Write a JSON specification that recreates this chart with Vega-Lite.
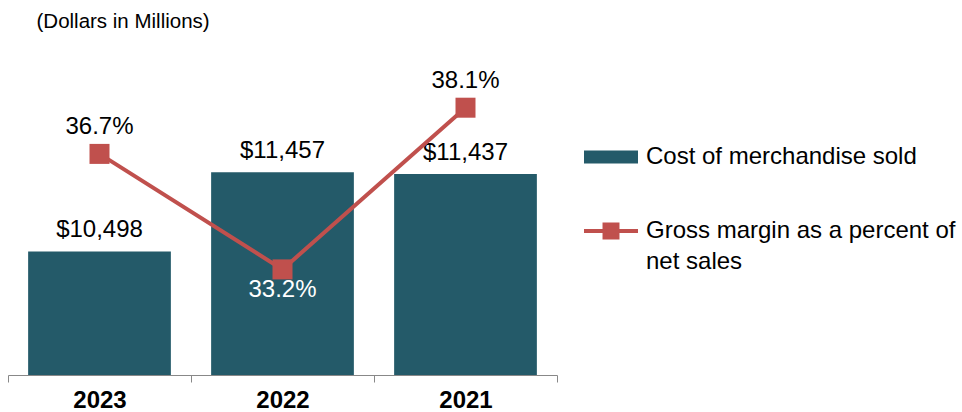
{
  "$schema": "https://vega.github.io/schema/vega-lite/v6.json",
  "width": 549,
  "height": 330,
  "autosize": {"type": "none"},
  "padding": {"left": 8, "top": 45, "right": 405, "bottom": 37},
  "background": "white",
  "title": {
    "text": "(Dollars in Millions)",
    "anchor": "start",
    "dx": 29,
    "offset": 13,
    "fontSize": 20.5,
    "fontWeight": "normal",
    "font": "Liberation Sans",
    "color": "#000000"
  },
  "config": {
    "view": {"stroke": null},
    "font": "Liberation Sans",
    "axisX": {
      "labelFont": "Liberation Sans",
      "labelFontSize": 24,
      "labelFontWeight": "bold",
      "labelColor": "#000000",
      "domainColor": "#888888",
      "tickColor": "#888888",
      "tickSize": 7,
      "tickBand": "extent",
      "labelPadding": 6,
      "labelAngle": 0,
      "title": null,
      "grid": false
    }
  },
  "data": {
    "values": [
      {"year": "2023", "cost": 10498, "margin": 0.367},
      {"year": "2022", "cost": 11457, "margin": 0.332},
      {"year": "2021", "cost": 11437, "margin": 0.381}
    ]
  },
  "encoding": {
    "x": {
      "field": "year",
      "type": "nominal",
      "sort": ["2023", "2022", "2021"],
      "scale": {"paddingInner": 0, "paddingOuter": 0},
      "axis": {"title": null}
    }
  },
  "layer": [
    {
      "mark": {"type": "bar", "clip": true, "width": {"band": 0.78}},
      "encoding": {
        "y": {"field": "cost", "type": "quantitative", "scale": {"domain": [9000, 13000], "zero": false}, "axis": null},
        "color": {
          "datum": "Cost of merchandise sold",
          "type": "nominal",
          "scale": {
            "domain": ["Cost of merchandise sold", "Gross margin as a percent of net sales"],
            "range": ["#245A69", "#C0504D"]
          },
          "legend": {
            "title": null,
            "orient": "none",
            "legendX": 591,
            "legendY": 100,
            "padding": 0,
            "symbolSize": 2916,
            "rowPadding": 47,
            "labelOffset": 23,
            "labelLimit": 400,
            "labelFont": "Liberation Sans",
            "labelFontSize": 24,
            "labelColor": "#000000",
            "labelBaseline": "middle",
            "labelExpr": "datum.label == 'Gross margin as a percent of net sales' ? ['Gross margin as a percent of', 'net sales'] : datum.label",
            "encode": {
              "symbols": {
                "update": {
                  "shape": {"signal": "datum.label == 'Cost of merchandise sold' ? 'M-1,-0.24H1V0.24H-1Z' : 'M-1,0H-0.24V-0.24H0.24V0.24H-0.24V0H-0.24M0.24,0H1'"},
                  "fill": {"signal": "datum.label == 'Cost of merchandise sold' ? '#245A69' : '#C0504D'"},
                  "stroke": {"signal": "datum.label == 'Cost of merchandise sold' ? '#245A69' : '#C0504D'"},
                  "strokeWidth": {"signal": "datum.label == 'Cost of merchandise sold' ? 0 : 4"},
                  "opacity": {"value": 1},
                  "fillOpacity": {"value": 1},
                  "strokeOpacity": {"value": 1}
                }
              },
              "labels": {
                "update": {
                  "lineHeight": {"value": 31}
                }
              }
            }
          }
        }
      }
    },
    {
      "mark": {"type": "text", "dy": -21, "fontSize": 24, "font": "Liberation Sans", "color": "#000000"},
      "encoding": {
        "y": {"field": "cost", "type": "quantitative", "scale": {"domain": [9000, 13000], "zero": false}, "axis": null},
        "text": {"field": "cost", "type": "quantitative", "format": "$,d"}
      }
    },
    {
      "mark": {"type": "line", "strokeWidth": 4, "point": {"shape": "square", "size": 400, "filled": true, "opacity": 1}},
      "encoding": {
        "y": {"field": "margin", "type": "quantitative", "scale": {"domain": [0.30, 0.40], "zero": false}, "axis": null},
        "color": {"datum": "Gross margin as a percent of net sales", "type": "nominal"}
      }
    },
    {
      "transform": [{"filter": "datum.year != '2022'"}],
      "mark": {"type": "text", "dy": -27, "fontSize": 24, "font": "Liberation Sans", "color": "#000000"},
      "encoding": {
        "y": {"field": "margin", "type": "quantitative", "scale": {"domain": [0.30, 0.40], "zero": false}, "axis": null},
        "text": {"field": "margin", "type": "quantitative", "format": ".1%"}
      }
    },
    {
      "transform": [{"filter": "datum.year == '2022'"}],
      "mark": {"type": "text", "dy": 21, "fontSize": 24, "font": "Liberation Sans", "color": "#FFFFFF"},
      "encoding": {
        "y": {"field": "margin", "type": "quantitative", "scale": {"domain": [0.30, 0.40], "zero": false}, "axis": null},
        "text": {"field": "margin", "type": "quantitative", "format": ".1%"}
      }
    }
  ],
  "resolve": {"scale": {"y": "independent"}}
}
